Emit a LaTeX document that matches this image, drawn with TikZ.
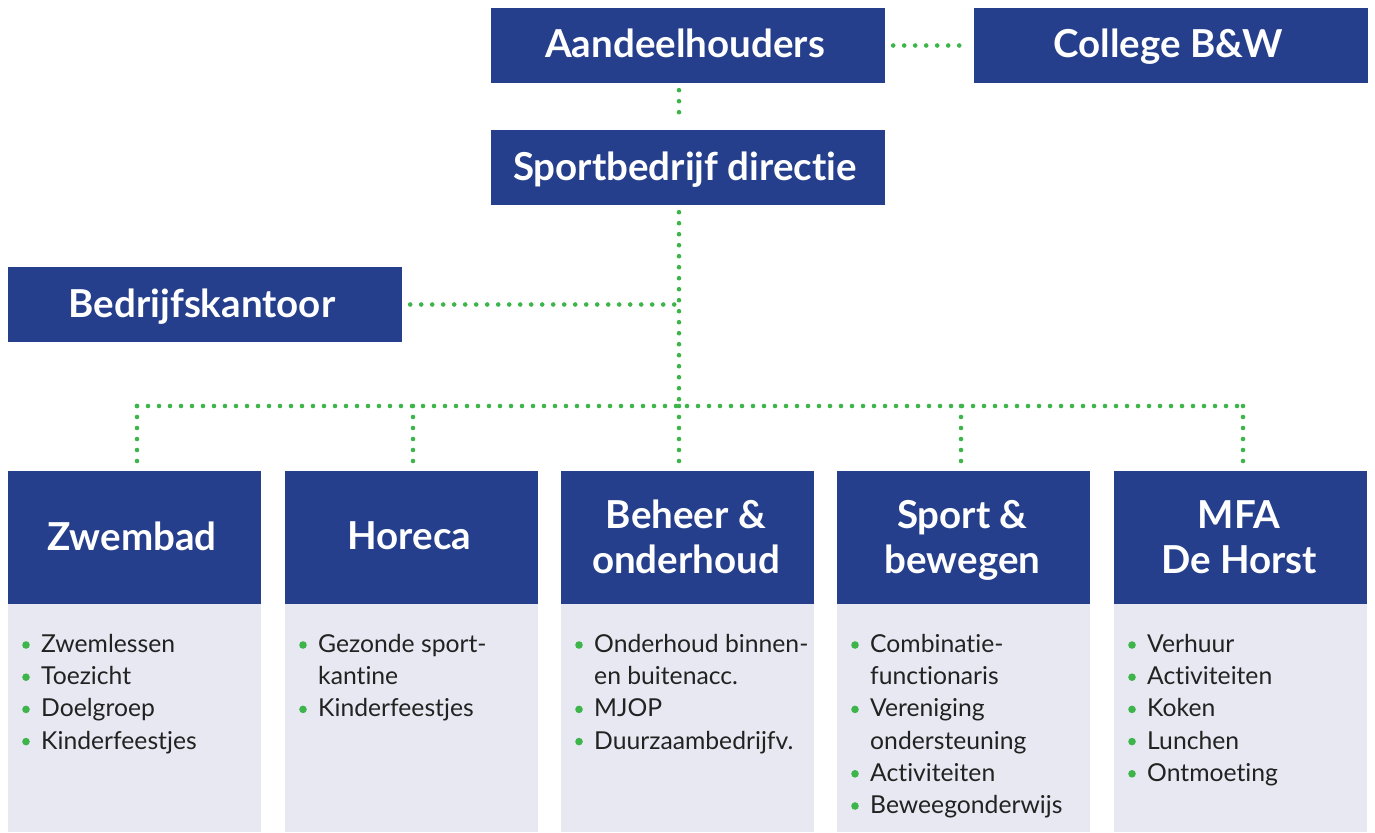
\documentclass[tikz,border=0pt]{standalone}
\usepackage{fontspec}
\setmainfont{Lato}[Ligatures=NoCommon]
\definecolor{navy}{HTML}{263F8C}
\definecolor{pale}{HTML}{E8E8F2}
\definecolor{dotgreen}{HTML}{3DB54A}
\definecolor{textdark}{HTML}{222222}
\newcommand\orgitem[3]{%
  \fill[dotgreen] ({#1+18},{652.5+32.2*#2-7.5}) circle (3.8pt);
  \node[bodytext] at ({#1+33},{652.5+32.2*#2}) {#3};}
\newcommand\orgcont[3]{%
  \node[bodytext] at ({#1+33},{652.5+32.2*#2}) {#3};}
\begin{document}
\begin{tikzpicture}[x=1pt,y=-1pt,
  topbox/.style={fill=navy, inner sep=0pt, minimum width=394pt, minimum height=75pt},
  headbox/.style={fill=navy, inner sep=0pt, minimum width=253pt, minimum height=133pt},
  bodybox/.style={fill=pale, inner sep=0pt, minimum width=253pt, minimum height=228pt},
  toptext/.style={text=white, font=\bfseries\fontsize{38.5}{44}\selectfont, anchor=base, inner sep=0pt},
  headtext/.style={text=white, font=\bfseries\fontsize{38.5}{45}\selectfont, anchor=base, inner sep=0pt},
  bodytext/.style={text=textdark, font=\fontsize{24.7}{28}\selectfont, anchor=base west, inner sep=0pt},
  dotline/.style={draw=dotgreen, line width=4.6pt, line cap=round, dash pattern=on 0pt off 11pt}
]
\useasboundingbox (0,0) rectangle (1375,832);

% top boxes
\node[topbox] (aand) at (688,45.5) {};
\node[topbox] (college) at (1171,45.5) {};
\node[topbox] (dir) at (688,167.5) {};
\node[topbox] (bk) at (205,304.5) {};
\node[toptext] at (685,58) {Aandeelhouders};
\node[toptext] at (1168,58) {College B\&W};
\node[toptext] at (685,180) {Sportbedrijf directie};
\node[toptext] at (202,317) {Bedrijfskantoor};

% columns
\foreach \n/\L in {h1/8, h2/285, h3/561, h4/837, h5/1114}{
  \node[headbox] (\n) at ({\L+126.5},537.5) {};
  \node[bodybox] (b\n) at ({\L+126.5},718) {};
}
\node[headtext] at (132,550) {Zwembad};
\node[headtext] at (409.5,549) {Horeca};
\node[headtext] at (686,528) {Beheer \&};
\node[headtext] at (686,573) {onderhoud};
\node[headtext] at (962.5,528) {Sport \&};
\node[headtext] at (962.5,573) {bewegen};
\node[headtext] at (1239,528) {MFA};
\node[headtext] at (1239,573) {De Horst};

% connectors
\coordinate (t) at (679,0);
\coordinate (bus) at (679,406);
\coordinate (d1) at (137,0);
\coordinate (d2) at (413,0);
\coordinate (d3) at (679,0);
\coordinate (d4) at (961,0);
\coordinate (d5) at (1243,0);
\draw[dotline, shorten <=8pt, shorten >=4pt] (aand.east) -- (college.west);
\draw[dotline, shorten <=7pt, shorten >=7pt] (aand.south -| t) -- (dir.north -| t);
\draw[dotline, shorten <=7pt] (dir.south -| t) -- (bus);
\draw[dotline, shorten <=8pt] (bk.east) -- (bk.east -| t);
\draw[dotline] (bus -| d1) -- (bus -| d5);
\foreach \i in {1,...,5}{
  \draw[dotline, shorten >=8pt] (bus -| d\i) -- (h\i.north -| d\i);
}

% body items
\orgitem{8}{0}{Zwemlessen}
\orgitem{8}{1}{Toezicht}
\orgitem{8}{2}{Doelgroep}
\orgitem{8}{3}{Kinderfeestjes}

\orgitem{285}{0}{Gezonde sport-}
\orgcont{285}{1}{kantine}
\orgitem{285}{2}{Kinderfeestjes}

\orgitem{561}{0}{Onderhoud binnen-}
\orgcont{561}{1}{en buitenacc.}
\orgitem{561}{2}{MJOP}
\orgitem{561}{3}{Duurzaambedrijfv.}

\orgitem{837}{0}{Combinatie-}
\orgcont{837}{1}{functionaris}
\orgitem{837}{2}{Vereniging}
\orgcont{837}{3}{ondersteuning}
\orgitem{837}{4}{Activiteiten}
\orgitem{837}{5}{Beweegonderwijs}

\orgitem{1114}{0}{Verhuur}
\orgitem{1114}{1}{Activiteiten}
\orgitem{1114}{2}{Koken}
\orgitem{1114}{3}{Lunchen}
\orgitem{1114}{4}{Ontmoeting}
\end{tikzpicture}
\end{document}
